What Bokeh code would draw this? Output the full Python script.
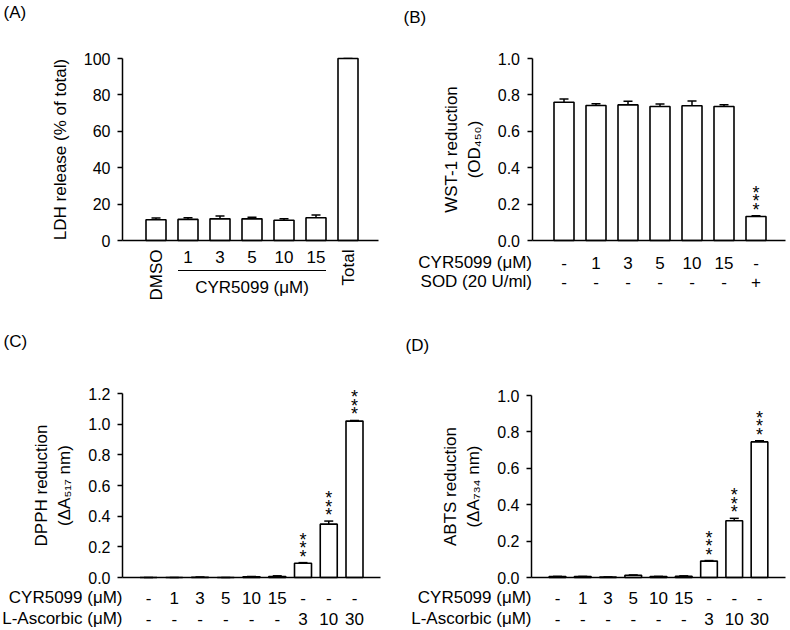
import math
from bokeh.plotting import figure
from bokeh.models import (Range1d, LinearAxis, FixedTicker, PrintfTickFormatter,
                          ColumnDataSource, Whisker, TeeHead)
from bokeh.layouts import column, row
from bokeh.embed import file_html
from bokeh.resources import INLINE
from bokeh.core.properties import value

FONT = "Liberation Sans"

# ---------------- data ----------------
a_labels = ["DMSO", "1", "3", "5", "10", "15", "Total"]
a_values = [11.4, 11.6, 11.9, 11.9, 11.1, 12.5, 100.0]
a_errors = [1.0, 0.9, 1.6, 0.9, 0.8, 1.5, 0.0]
a_yticks = [0, 20, 40, 60, 80, 100]

b_row1 = ["-", "1", "3", "5", "10", "15", "-"]
b_row2 = ["-", "-", "-", "-", "-", "-", "+"]
b_values = [0.760, 0.742, 0.745, 0.736, 0.740, 0.736, 0.132]
b_errors = [0.018, 0.010, 0.020, 0.014, 0.027, 0.010, 0.004]
b_stars = [6]
b_yticks = [0.0, 0.2, 0.4, 0.6, 0.8, 1.0]

c_row1 = ["-", "1", "3", "5", "10", "15", "-", "-", "-"]
c_row2 = ["-", "-", "-", "-", "-", "-", "3", "10", "30"]
c_values = [0.0, 0.0, 0.002, 0.0, 0.005, 0.007, 0.093, 0.348, 1.02]
c_errors = [0.0, 0.0, 0.001, 0.0, 0.002, 0.004, 0.004, 0.020, 0.004]
c_stars = [6, 7, 8]
c_yticks = [0.0, 0.2, 0.4, 0.6, 0.8, 1.0, 1.2]

d_row1 = ["-", "1", "3", "5", "10", "15", "-", "-", "-"]
d_row2 = ["-", "-", "-", "-", "-", "-", "3", "10", "30"]
d_values = [0.005, 0.005, 0.002, 0.012, 0.005, 0.007, 0.090, 0.312, 0.745]
d_errors = [0.001, 0.001, 0.001, 0.002, 0.001, 0.002, 0.003, 0.013, 0.006]
d_stars = [6, 7, 8]
d_yticks = [0.0, 0.2, 0.4, 0.6, 0.8, 1.0]

TICK_FS = "16px"
LAB_FS = "17px"
ROW_FS = "17px"


def make_panel(fw, fh, ox, oy, axis_px, bar0_px, step_px, xend_px,
               zero_px, top_px, ymax, values, errors, yticks, fmt, ylabel,
               letter, letter_px, bar_w, stars, label_standoff):
    ppu = (zero_px - top_px) / ymax
    xs = -(bar0_px - ox) / step_px
    xe = xs + fw / step_px
    ye = (zero_px - oy) / ppu
    ys = ye - fh / ppu
    p = figure(width=fw, height=fh, x_range=Range1d(xs, xe), y_range=Range1d(ys, ye),
               min_border=0, toolbar_location=None, output_backend="svg",
               x_axis_location=None, y_axis_location=None, outline_line_color=None,
               background_fill_color="white", border_fill_color="white")
    p.grid.visible = False
    ax_x = (axis_px - bar0_px) / step_px
    x_end = (xend_px - bar0_px) / step_px

    yax = LinearAxis(ticker=FixedTicker(ticks=yticks), fixed_location=ax_x,
                     bounds=(0, ymax), axis_label=ylabel)
    yax.formatter = PrintfTickFormatter(format=fmt)
    yax.axis_line_width = 1.5
    yax.axis_line_color = "black"
    yax.major_tick_line_width = 1.5
    yax.major_tick_line_color = "black"
    yax.major_tick_out = 5
    yax.major_tick_in = 0
    yax.minor_tick_line_color = None
    yax.major_label_text_font = FONT
    yax.major_label_text_font_size = TICK_FS
    yax.major_label_text_color = "black"
    yax.major_label_standoff = 7
    yax.axis_label_text_font = FONT
    yax.axis_label_text_font_size = LAB_FS
    yax.axis_label_text_font_style = "normal"
    yax.axis_label_text_color = "black"
    yax.axis_label_standoff = label_standoff
    p.add_layout(yax, "left")

    xax = LinearAxis(ticker=FixedTicker(ticks=[]), fixed_location=0,
                     bounds=(ax_x, x_end))
    xax.axis_line_width = 1.5
    xax.axis_line_color = "black"
    xax.major_tick_line_color = None
    xax.minor_tick_line_color = None
    xax.major_label_text_font_size = "0px"
    p.add_layout(xax, "below")

    idx = list(range(len(values)))
    upper = [v + e for v, e in zip(values, errors)]
    src = ColumnDataSource(dict(x=idx, top=values, upper=upper))
    p.vbar(x="x", top="top", bottom=0, width=bar_w, source=src,
           fill_color="white", line_color="black", line_width=1.6)
    p.add_layout(Whisker(source=src, base="x", upper="upper", lower="top",
                         lower_head=None,
                         upper_head=TeeHead(size=9, line_width=1.5, line_color="black"),
                         line_width=1.5, line_color="black"))
    # significance marks: three asterisks stacked vertically above the error bar
    if stars:
        for off in [-6, -14.5, -23]:
            p.text(x=stars, y=[upper[i] for i in stars], text=["*"] * len(stars),
                   text_align="center", text_baseline="alphabetic", y_offset=off,
                   text_font=value(FONT), text_font_size="18px", text_color="black")

    lx = xs + (letter_px[0] - ox) / step_px
    ly = ye - (letter_px[1] - oy) / ppu
    p.text(x=[lx], y=[ly], text=[letter], text_align="left", text_baseline="top",
           text_font=value(FONT), text_font_size="17px", text_color="black")
    return p, ax_x, ppu


def add_rows(p, ax_x, n, row1, row2, title1, title2, off1, off2):
    idx = list(range(n))
    for labels, off in ((row1, off1), (row2, off2)):
        p.text(x=idx, y=[0] * n, text=labels, text_align="center", text_baseline="middle",
               y_offset=off, text_font=value(FONT), text_font_size=ROW_FS, text_color="black")
    p.text(x=[ax_x, ax_x], y=[0, 0], text=[title1, title2], text_align="right",
           text_baseline="middle", y_offset=[off1, off2],
           text_font=value(FONT), text_font_size=ROW_FS, text_color="black")


# ---------------- panel A ----------------
pA, axA, ppuA = make_panel(395, 315, 0, 0, 122, 155.5, 32, 378, 240, 58, 100,
                           a_values, a_errors, a_yticks, "%d",
                           "LDH release (% of total)", "(A)", (3, 2), 0.625, [], 11)
nA = len(a_labels)
rot = [0, nA - 1]
num = list(range(1, nA - 1))
pA.text(x=rot, y=[0] * len(rot), text=[a_labels[i] for i in rot], angle=math.pi / 2,
        text_align="right", text_baseline="middle", y_offset=9,
        text_font=value(FONT), text_font_size=ROW_FS, text_color="black")
pA.text(x=num, y=[0] * len(num), text=[a_labels[i] for i in num], text_align="center",
        text_baseline="middle", y_offset=16,
        text_font=value(FONT), text_font_size=ROW_FS, text_color="black")
yline = -30 / ppuA
pA.segment(x0=[num[0] - 0.3125], y0=[yline], x1=[num[-1] + 0.3125], y1=[yline],
           line_color="black", line_width=1.2)
pA.text(x=[(num[0] + num[-1]) / 2], y=[0], text=["CYR5099 (μM)"], text_align="center",
        text_baseline="middle", y_offset=47,
        text_font=value(FONT), text_font_size=ROW_FS, text_color="black")

# ---------------- panel B ----------------
pB, axB, ppuB = make_panel(395, 315, 395, 0, 531.5, 563.5, 32, 785, 240, 58, 1.0,
                           b_values, b_errors, b_yticks, "%.1f",
                           "WST-1 reduction\n(OD₄₅₀)", "(B)", (403, 7), 0.625, b_stars, 11)
add_rows(pB, axB, len(b_values), b_row1, b_row2, "CYR5099 (μM)", "SOD (20 U/ml)", 22, 41)

# ---------------- panel C ----------------
pC, axC, ppuC = make_panel(395, 315, 0, 315, 122, 148, 25.75, 380, 577, 393, 1.2,
                           c_values, c_errors, c_yticks, "%.1f",
                           "DPPH reduction\n(ΔA₅₁₇ nm)", "(C)", (3, 331), 0.66, c_stars, 11)
add_rows(pC, axC, len(c_values), c_row1, c_row2, "CYR5099 (μM)", "L-Ascorbic (μM)", 20, 41)

# ---------------- panel D ----------------
pD, axD, ppuD = make_panel(395, 315, 395, 315, 531, 557, 25.25, 785, 577, 395, 1.0,
                           d_values, d_errors, d_yticks, "%.1f",
                           "ABTS reduction\n(ΔA₇₃₄ nm)", "(D)", (405, 335), 0.66, d_stars, 11)
add_rows(pD, axD, len(d_values), d_row1, d_row2, "CYR5099 (μM)", "L-Ascorbic (μM)", 20, 41)

layout = column(row(pA, pB), row(pC, pD))
open("out.html", "w").write(file_html(layout, INLINE))
